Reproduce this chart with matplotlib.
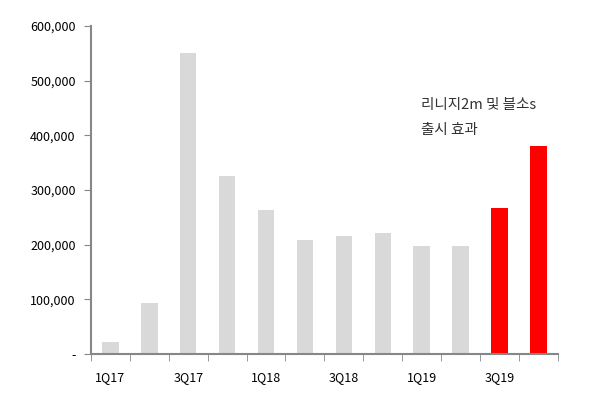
import numpy as np
import matplotlib
matplotlib.use('Agg')
import matplotlib.pyplot as plt
from matplotlib.ticker import FuncFormatter

plt.rcParams['font.family'] = ['Noto Sans CJK KR', 'DejaVu Sans']

quarters = ['1Q17', '2Q17', '3Q17', '4Q17', '1Q18', '2Q18', '3Q18', '4Q18',
            '1Q19', '2Q19', '3Q19', '4Q19']
values = [22000, 93000, 551000, 326000, 263000, 209000, 216000, 222000,
          198000, 197000, 268000, 380000]
highlight = [False] * 10 + [True, True]
note = '리니지2m 및 블소s\n출시 효과'

colors = ['#FF0000' if h else '#D9D9D9' for h in highlight]

fig = plt.figure(figsize=(5.89, 3.94), dpi=100)
ax = fig.add_axes([0.1545, 0.1015, 0.7925, 0.8325])

x = np.arange(len(quarters))
ax.bar(x, values, width=0.42, color=colors)

ax.set_xlim(-0.5, len(quarters) - 0.5)
ax.set_ylim(0, 600000)
ax.set_yticks(np.arange(0, 600001, 100000))
ax.yaxis.set_major_formatter(FuncFormatter(lambda v, p: '-' if v == 0 else f'{int(v):,}'))

ax.set_xticks(x[::2])
ax.set_xticklabels(quarters[::2])
ax.set_xticks(np.arange(-0.5, len(quarters), 1), minor=True)
ax.tick_params(axis='x', which='major', length=0, pad=12)
ax.tick_params(axis='x', which='minor', length=5, color='#878787', direction='out')
ax.tick_params(axis='y', length=5, color='#878787', direction='out', pad=6)
ax.tick_params(labelsize=9, labelcolor='black')

for s in ['top', 'right']:
    ax.spines[s].set_visible(False)
for s in ['left', 'bottom']:
    ax.spines[s].set_color('#878787')
    ax.spines[s].set_linewidth(1.5)

ax.text(0.707, 0.72, note, transform=ax.transAxes, fontsize=10.5,
        color='#333333', linespacing=2.0, va='center', ha='left')

fig.savefig('out.png', dpi=100)
